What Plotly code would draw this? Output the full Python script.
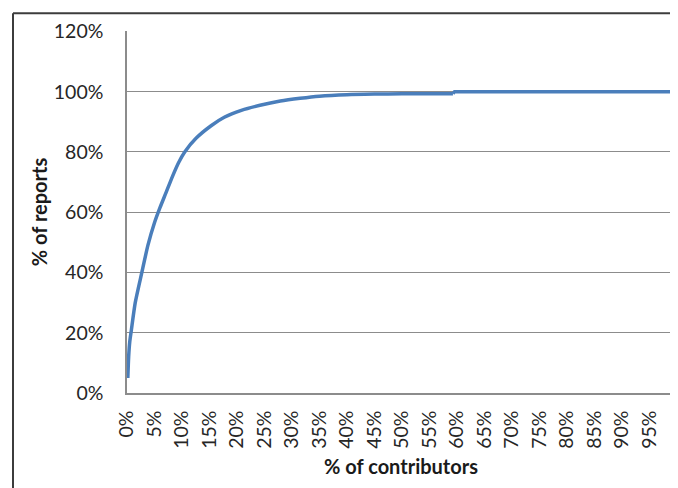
import plotly.graph_objects as go

# Cumulative share of reports vs share of contributors
contributors_pct = [0.15, 0.3, 0.5, 0.8, 1.5, 2.7, 3.8, 5.0, 6.0, 7.1, 8.3, 9.4, 10.5,
                    12.6, 15.3, 17.7, 20.8, 24.2, 27.9, 31.5, 35.0, 40.0, 45.0, 50.0,
                    55.0, 59.3, 59.6, 70.0, 80.0, 90.0, 99.7]
reports_pct = [5.0, 12.0, 17.0, 21.0, 30.0, 40.0, 49.0, 56.5, 61.5, 66.5, 72.0, 76.5, 80.0,
               84.6, 88.7, 91.5, 93.8, 95.5, 96.9, 97.8, 98.5, 99.0, 99.2, 99.3,
               99.3, 99.35, 100.0, 100.0, 100.0, 100.0, 100.0]

x_ticks = [i * 5 for i in range(20)]
y_ticks = [0, 20, 40, 60, 80, 100, 120]

FONT = "Lato"
LINE_COLOR = "#4A7EBB"

x_vals = [v / 100 for v in contributors_pct]
y_vals = [v / 100 for v in reports_pct]
step = contributors_pct.index(59.3)  # smooth part ends where the flat tail starts

fig = go.Figure()
# smooth rising part
fig.add_trace(go.Scatter(
    x=x_vals[:step + 1], y=y_vals[:step + 1],
    mode="lines",
    line=dict(color=LINE_COLOR, width=3.5, shape="spline", smoothing=0.6),
    showlegend=False, hoverinfo="skip",
))
# small step and flat tail
fig.add_trace(go.Scatter(
    x=x_vals[step:], y=y_vals[step:],
    mode="lines",
    line=dict(color=LINE_COLOR, width=3.5, shape="linear"),
    showlegend=False, hoverinfo="skip",
))

fig.update_layout(
    width=678, height=488,
    margin=dict(l=119, r=11, t=19, b=103),
    paper_bgcolor="white", plot_bgcolor="white",
    font=dict(family=FONT, size=18, color="#262626"),
    xaxis=dict(
        range=[0, 0.997],
        tickvals=[t / 100 for t in x_ticks],
        ticktext=[f"{t}%" for t in x_ticks],
        tickangle=-90,
        showgrid=False,
        showline=True, linecolor="#8C8C8C", linewidth=1.5,
        zeroline=False,
        ticks="", ticklabelstandoff=8,
        title=dict(text="<b>% of contributors</b>", font=dict(family=FONT, size=20, color="#1a1a1a"), standoff=12),
        tickfont=dict(family=FONT, size=19.5, color="#262626"),
    ),
    yaxis=dict(
        range=[0, 1.2015],
        tickvals=[t / 100 for t in y_ticks],
        ticktext=[f"{t}%" for t in y_ticks],
        showgrid=True, gridcolor="#8C8C8C", gridwidth=1.2,
        showline=True, linecolor="#8C8C8C", linewidth=1.5,
        zeroline=False,
        ticks="", ticklabelstandoff=18,
        title=dict(text="<b>% of reports</b>", font=dict(family=FONT, size=20, color="#1a1a1a"), standoff=1),
        tickfont=dict(family=FONT, size=19.5, color="#262626"),
    ),
)

# Outer chart frame (visible on left and top)
W, H = 548.0, 366.0
fx = (5 - 119) / W
fy_top = (19 + 366 - 1) / H
fig.add_shape(type="line", xref="paper", yref="paper", x0=fx, x1=fx, y0=fy_top, y1=-0.35,
              line=dict(color="#3c3c3c", width=2))
fig.add_shape(type="line", xref="paper", yref="paper", x0=fx, x1=1.05, y0=fy_top, y1=fy_top,
              line=dict(color="#3c3c3c", width=2))

fig.write_html("out.html")
